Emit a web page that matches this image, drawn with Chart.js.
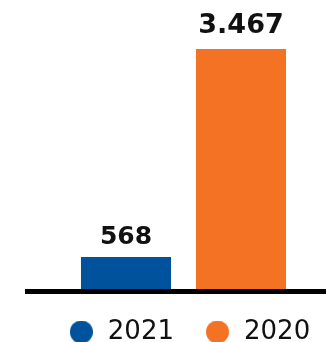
<!DOCTYPE html>
<html>
<head>
<meta charset="utf-8">
<script src="https://cdn.jsdelivr.net/npm/chart.js@4/dist/chart.umd.min.js"></script>
<style>
  html, body { margin: 0; padding: 0; background: #fff; overflow: hidden; }
  #wrap { position: relative; width: 326px; height: 342px; }
</style>
</head>
<body>
<div id="wrap"><canvas id="chart"></canvas></div>
<script>
// Data
const categories = [''];
const seriesNames = ['2021', '2020'];
const values2021 = [568];
const values2020 = [3467];

// Styles
const seriesColors = ['#00529C', '#F37224'];
const labelFontSizes = [25, 27];
const labelOffsets = [13, 16];

// Format numbers with a dot as thousands separator
function formatNumber(v) {
    return String(v).replace(/\B(?=(\d{3})+(?!\d))/g, '.');
}

// Round legend marker drawn on a small canvas
function makeDot(color, size) {
    const c = document.createElement('canvas');
    c.width = size;
    c.height = size;
    const g = c.getContext('2d');
    g.fillStyle = color;
    g.beginPath();
    g.arc(size / 2, size / 2, size / 2, 0, Math.PI * 2);
    g.fill();
    return c;
}

// Value labels above the bars
const valueLabels = {
    id: 'valueLabels',
    afterDatasetsDraw(chart) {
        const ctx = chart.ctx;
        ctx.save();
        ctx.fillStyle = '#111';
        ctx.textAlign = 'center';
        ctx.textBaseline = 'alphabetic';
        chart.data.datasets.forEach((ds, i) => {
            ctx.font = 'bold ' + labelFontSizes[i] + 'px "DejaVu Sans"';
            chart.getDatasetMeta(i).data.forEach((bar, j) => {
                ctx.fillText(formatNumber(ds.data[j]), bar.x, bar.y - labelOffsets[i]);
            });
        });
        ctx.restore();
    }
};

// Thick black baseline under the bars
const baseline = {
    id: 'baseline',
    afterDatasetsDraw(chart) {
        const { ctx, chartArea } = chart;
        ctx.save();
        ctx.fillStyle = '#000';
        ctx.fillRect(chartArea.left - 16, chartArea.bottom, chartArea.right - chartArea.left + 16, 5);
        ctx.restore();
    }
};

// Move the legend to the right, under the bars
const legendShift = {
    id: 'legendShift',
    afterLayout(chart) {
        chart.legend.left += 26;
        chart.legend.right += 26;
    }
};

const ctx = document.getElementById('chart').getContext('2d');
new Chart(ctx, {
    type: 'bar',
    data: {
        labels: categories,
        datasets: [
            {
                label: seriesNames[0],
                data: values2021,
                backgroundColor: seriesColors[0]
            },
            {
                label: seriesNames[1],
                data: values2020,
                backgroundColor: seriesColors[1]
            }
        ]
    },
    options: {
        responsive: true,
        maintainAspectRatio: false,
        animation: false,
        datasets: {
            bar: {
                categoryPercentage: 0.807,
                barPercentage: 0.783
            }
        },
        layout: {
            padding: { top: 49, left: 0, right: 0, bottom: -13 }
        },
        scales: {
            x: { display: false },
            y: {
                min: 120,
                max: 3467,
                ticks: { display: false },
                grid: { display: false },
                border: { display: false },
                afterFit(scale) { scale.width = 41; }
            }
        },
        plugins: {
            tooltip: { enabled: false },
            legend: {
                position: 'bottom',
                labels: {
                    usePointStyle: true,
                    pointStyleWidth: 27,
                    boxHeight: 23,
                    padding: 30,
                    color: '#111',
                    font: { family: '"DejaVu Sans"', size: 26 },
                    generateLabels(chart) {
                        const items = Chart.defaults.plugins.legend.labels.generateLabels(chart);
                        items.forEach((item, i) => {
                            item.pointStyle = makeDot(seriesColors[i], 23);
                        });
                        return items;
                    }
                }
            }
        }
    },
    plugins: [valueLabels, baseline, legendShift]
});
</script>
</body>
</html>
